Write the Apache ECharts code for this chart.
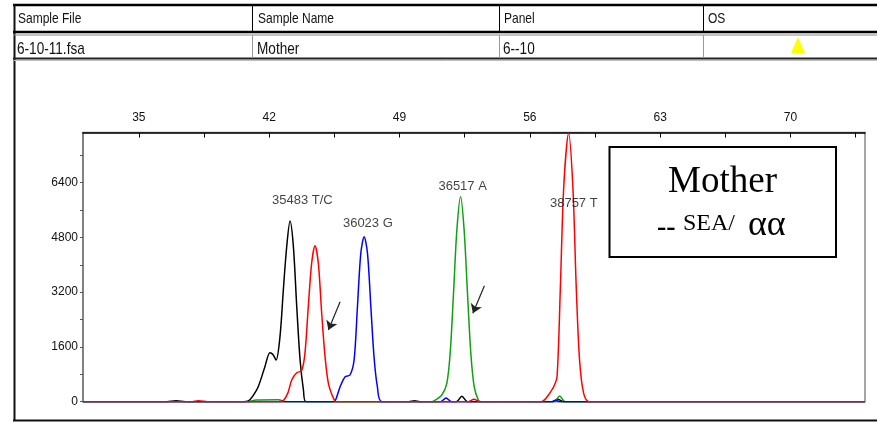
<!DOCTYPE html>
<html>
<head>
<meta charset="utf-8">
<script src="https://cdn.jsdelivr.net/npm/echarts@6/dist/echarts.min.js"></script>
<style>html,body{margin:0;padding:0;background:#fff;}#c{width:877px;height:423px;}</style>
</head>
<body>
<div id="c"></div>
<script>
// ---- Data ----
const xTickValues = [35, 38.5, 42, 45.5, 49, 52.5, 56, 59.5, 63, 66.5, 70, 73.5];
const xLabelValues = [35, 42, 49, 56, 63, 70];
const yTickValues = [0, 800, 1600, 2400, 3200, 4000, 4800, 5600, 6400, 7200];
const yLabelValues = [0, 1600, 3200, 4800, 6400];

const blackTrace = [[32,0],[36.5,0],[37.0,25],[37.5,0],[40.6,0],[40.88,20],[41.1,150],[41.41,438],[41.77,1023],[42.04,1432],[42.2,1380],[42.37,1218],[42.58,1900],[42.76,3264],[42.94,4529],[43.12,5280],[43.30,4529],[43.48,2776],[43.66,1218],[43.84,342],[43.98,0],[49.5,0],[49.8,30],[50.1,0],[52.05,0],[52.35,160],[52.65,0],[57.2,0],[57.5,70],[57.8,0],[74,0]];
const redTrace = [[32,0],[37.8,0],[38.2,30],[38.8,0],[42.5,0],[42.76,30],[43.0,250],[43.21,634],[43.48,847],[43.74,906],[43.92,1414],[44.10,2776],[44.28,4044],[44.46,4558],[44.64,4044],[44.82,2583],[45.0,1315],[45.18,538],[45.45,100],[45.6,0],[52.7,0],[53.0,70],[53.3,0],[56.6,0],[56.8,60],[57.0,196],[57.28,438],[57.46,730],[57.64,3360],[57.82,6282],[58.08,7843],[58.31,6282],[58.49,3360],[58.67,1218],[58.89,245],[59.2,0],[74,0]];
const blueTrace = [[32,0],[45.4,0],[45.54,20],[45.81,438],[46.08,730],[46.34,780],[46.56,1218],[46.74,2776],[46.92,4336],[47.10,4821],[47.28,4336],[47.46,2776],[47.63,1315],[47.81,438],[48.05,0],[51.2,0],[51.5,110],[51.8,0],[57.2,0],[57.4,40],[57.6,0],[74,0]];
const greenTrace = [[32,0],[40.9,0],[41.3,50],[42.5,60],[42.9,0],[50.7,0],[50.9,40],[51.27,196],[51.54,538],[51.72,1414],[51.90,3167],[52.08,5017],[52.28,5990],[52.47,5017],[52.65,3167],[52.83,1414],[53.01,438],[53.24,40],[53.4,0],[57.3,0],[57.6,170],[57.9,0],[74,0]];

const peakNames = ['35483 T/C', '36023 G', '36517 A', '38757 T'];
const peakLabelX = [43.78, 47.30, 52.39, 58.36];
const peakLabelY = [5894, 5217, 6303, 5797];

const arrowStarts = [[45.81, 2922], [53.56, 3390]];
const arrowEnds = [[45.18, 2095], [52.94, 2583]];

const headerCols = ['Sample File', 'Sample Name', 'Panel', 'OS'];
const rowValues = ['6-10-11.fsa', 'Mother', '6--10', ''];

// ---- Chart ----
const SANS = '"Liberation Sans",Arial,sans-serif';
const SERIF = '"Liberation Serif","Times New Roman",serif';
const chart = echarts.init(document.getElementById('c'), null, {renderer: 'canvas'});

const colX = [18, 258, 504, 708];
const graphics = [];
// table lines
graphics.push({type:'line', shape:{x1:13, y1:5, x2:877, y2:5}, style:{stroke:'#000', lineWidth:2.5}});
graphics.push({type:'line', shape:{x1:14.5, y1:4, x2:14.5, y2:421}, style:{stroke:'#111', lineWidth:2}});
graphics.push({type:'line', shape:{x1:13, y1:32, x2:877, y2:32}, style:{stroke:'#000', lineWidth:2.5}});
graphics.push({type:'line', shape:{x1:14, y1:35, x2:877, y2:35}, style:{stroke:'#888', lineWidth:1}});
graphics.push({type:'line', shape:{x1:13, y1:58.5, x2:877, y2:58.5}, style:{stroke:'#222', lineWidth:2}});
graphics.push({type:'line', shape:{x1:14, y1:60.5, x2:877, y2:60.5}, style:{stroke:'#bbb', lineWidth:1}});
graphics.push({type:'line', shape:{x1:13, y1:420.5, x2:877, y2:420.5}, style:{stroke:'#111', lineWidth:2}});
[252.5, 499.5, 703.5].forEach(x => {
  graphics.push({type:'line', shape:{x1:x, y1:5, x2:x, y2:32}, style:{stroke:'#000', lineWidth:1}});
  graphics.push({type:'line', shape:{x1:x, y1:35, x2:x, y2:58}, style:{stroke:'#999', lineWidth:1}});
});
headerCols.forEach((t, i) => {
  graphics.push({type:'text', x:colX[i], y:18.5, scaleX:0.8, style:{text:t, font:'15px ' + SANS, fill:'#111', verticalAlign:'middle', align:'left'}});
});
rowValues.forEach((t, i) => {
  if (!t) return;
  graphics.push({type:'text', x:colX[i] - 1, y:49, scaleX:0.8, style:{text:t, font:'17px ' + SANS, fill:'#111', verticalAlign:'middle', align:'left'}});
});
graphics.push({type:'polygon', shape:{points:[[798,37],[791,53],[805,53]]}, style:{fill:'#ffff00'}});
// Mother box
graphics.push({type:'rect', z:100, shape:{x:609.5, y:147, width:226.5, height:110}, style:{fill:'#fff', stroke:'#000', lineWidth:2}});
graphics.push({type:'text', z:101, x:722.5, y:182.5, style:{text:'Mother', font:'37px ' + SERIF, fill:'#000', align:'center', verticalAlign:'middle'}});
graphics.push({type:'text', z:101, x:657, y:228, style:{text:'--', font:'bold 28px ' + SERIF, fill:'#000', align:'left', verticalAlign:'middle'}});
graphics.push({type:'text', z:101, x:683, y:224, style:{text:'SEA/', font:'24px ' + SERIF, fill:'#000', align:'left', verticalAlign:'middle'}});
graphics.push({type:'text', z:101, x:748, y:226, style:{text:'αα', font:'36px ' + SERIF, fill:'#000', align:'left', verticalAlign:'middle'}});

function trace(name, data, color, z) {
  return {name, type:'line', data, smooth:0.3, showSymbol:false, symbol:'none', z,
    lineStyle:{color, width:1.5}, itemStyle:{color}, silent:true};
}

chart.setOption({
  animation:false,
  backgroundColor:'#fff',
  grid:{left:83, right:12, top:132.5, bottom:21.3, show:true, borderColor:'#888', borderWidth:1.5, containLabel:false, outerBoundsMode:'none'},
  xAxis:{type:'value', position:'top', min:32, max:74,
    axisLine:{show:true, onZero:false, lineStyle:{color:'#000', width:1.5}},
    axisTick:{show:true, inside:true, length:5, customValues:xTickValues, lineStyle:{color:'#000'}},
    axisLabel:{show:true, customValues:xLabelValues, margin:9, color:'#111', fontSize:12, fontFamily:SANS},
    splitLine:{show:false}},
  yAxis:{type:'value', min:0, max:7866,
    axisLine:{show:true, onZero:false, lineStyle:{color:'#777', width:1.5}},
    axisTick:{show:true, inside:false, length:3, customValues:yTickValues, lineStyle:{color:'#555'}},
    axisLabel:{show:true, customValues:yLabelValues, margin:5, color:'#111', fontSize:12, fontFamily:SANS,
      formatter: v => String(v)},
    splitLine:{show:false}},
  graphic:graphics,
  series:[
    trace('black', blackTrace, '#000000', 2),
    trace('green', greenTrace, '#10a010', 3),
    trace('blue', blueTrace, '#0000ff', 4),
    trace('red', redTrace, '#ff0000', 5),
    {name:'peaks', type:'scatter', symbolSize:0, z:10, silent:true,
      data: peakNames.map((n, i) => ({name:n, value:[peakLabelX[i], peakLabelY[i]]})),
      label:{show:true, position:'inside', formatter:'{b}', color:'#111', fontSize:13, fontFamily:SANS}},
    {name:'arrows', type:'line', data:[], z:10, silent:true,
      markLine:{silent:true, symbol:['none','arrow'], symbolSize:9, label:{show:false},
        lineStyle:{color:'#222', width:1.2, type:'solid'}, emphasis:{disabled:true},
        data: arrowStarts.map((s, i) => [{coord:s}, {coord:arrowEnds[i]}])}}
  ]
});
</script>
</body>
</html>
